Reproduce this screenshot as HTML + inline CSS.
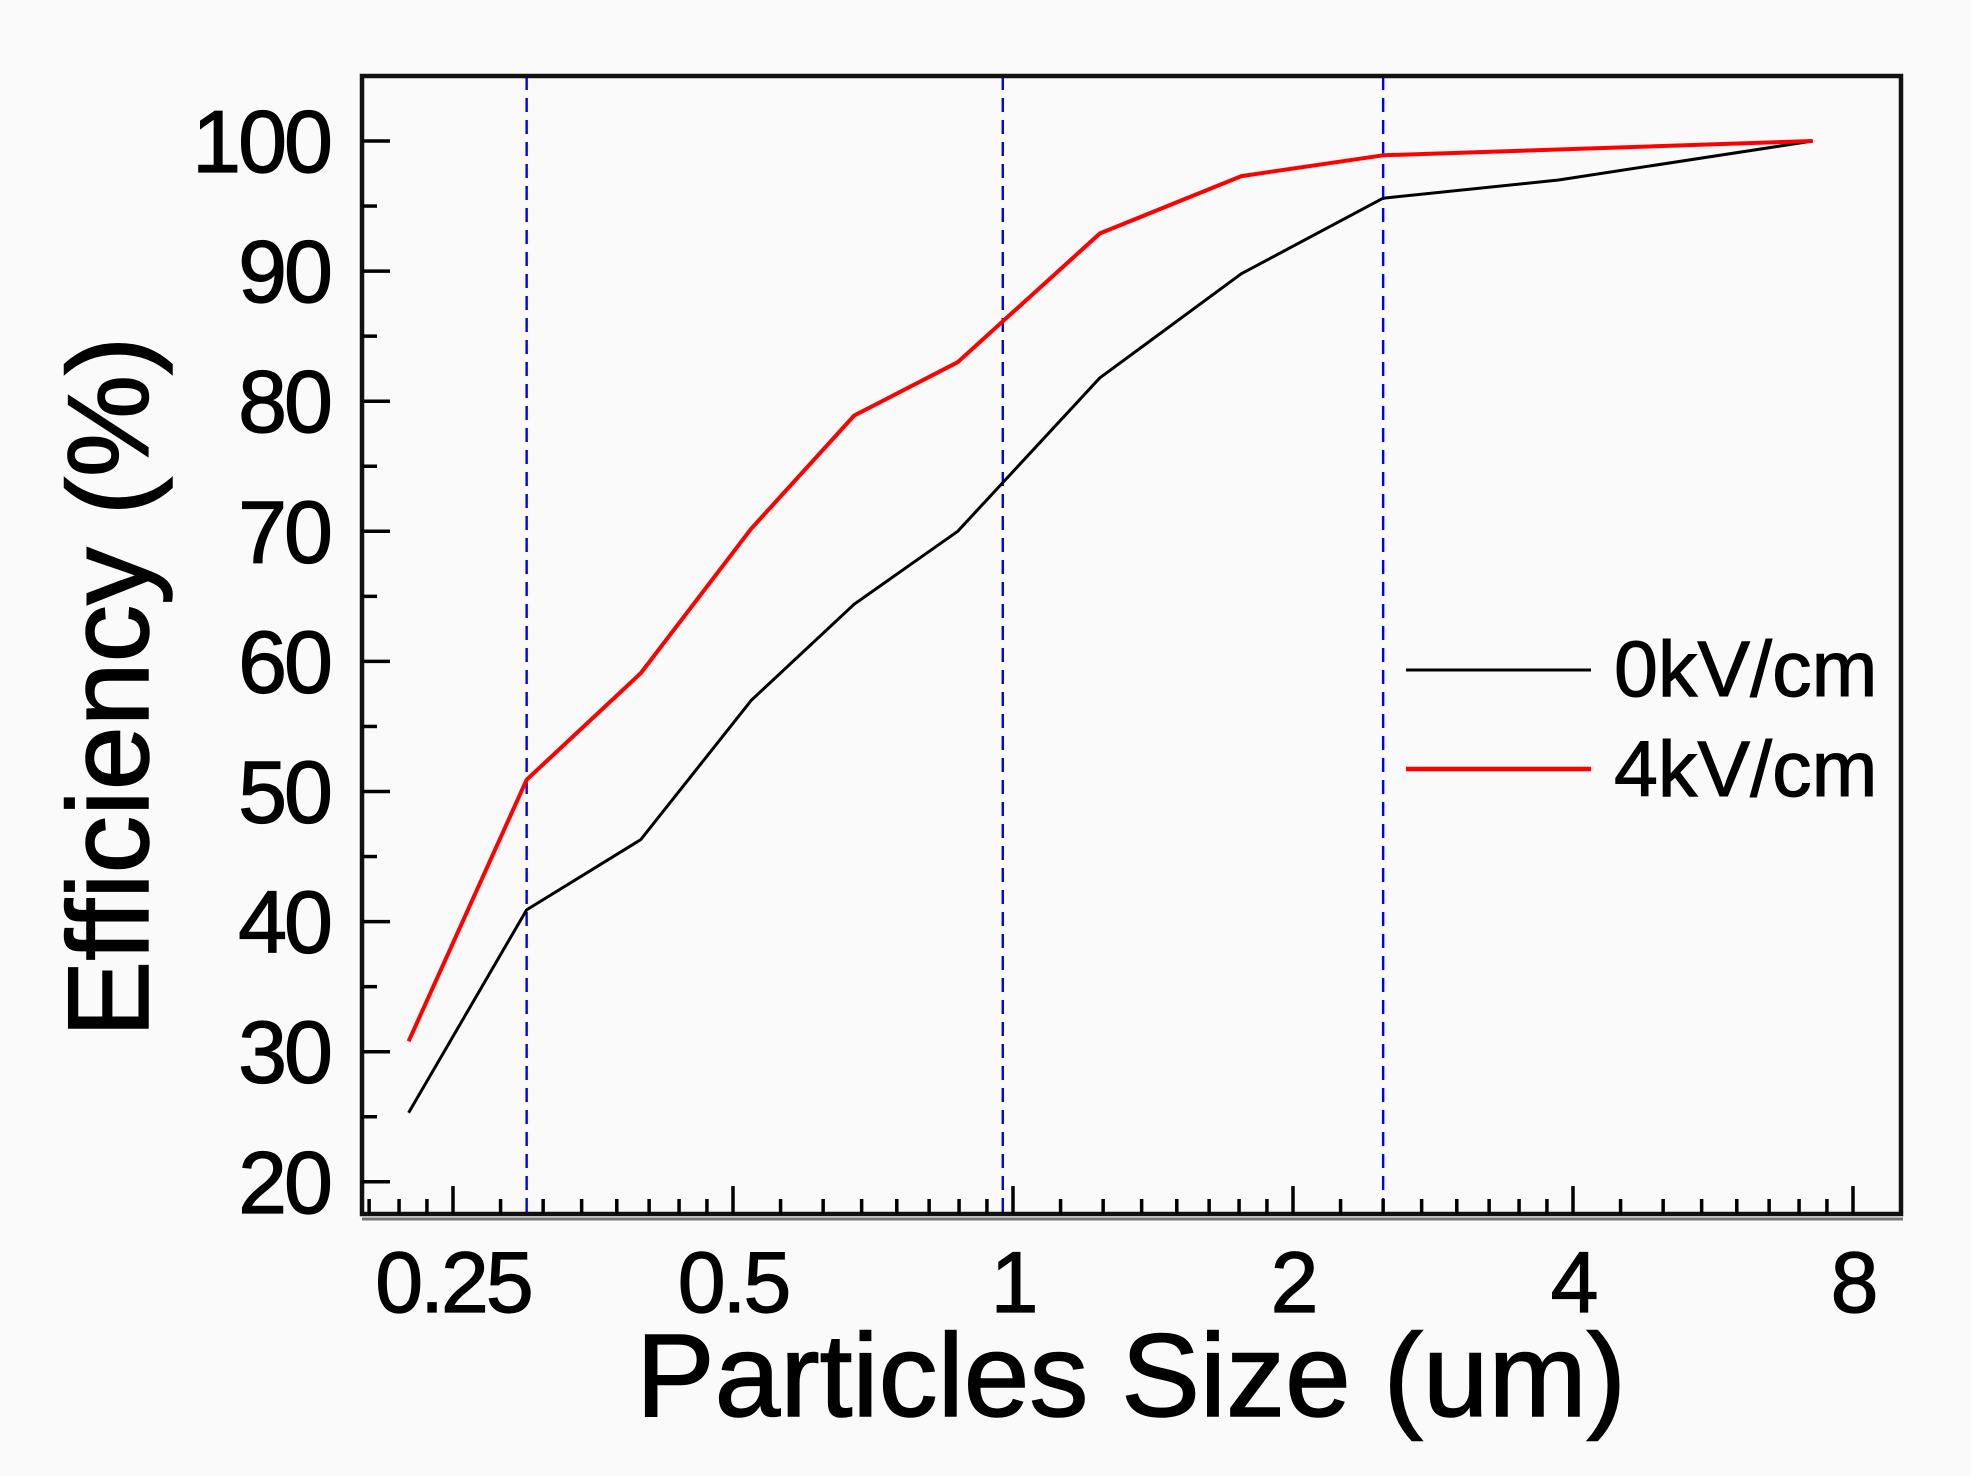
<!DOCTYPE html>
<html><head><meta charset="utf-8">
<style>
html,body{margin:0;padding:0;background:#fafafa;}
svg{display:block;font-family:"Liberation Sans",Arial,sans-serif;}
</style></head>
<body>
<svg id="chart" width="1971" height="1476" viewBox="0 0 1971 1476" xmlns="http://www.w3.org/2000/svg">
<rect x="0" y="0" width="1971" height="1476" fill="#fafafa"/>
<g id="plot"></g>
</svg>
<script>
const xTicks = [0.25, 0.5, 1, 2, 4, 8];
const xTickLabels = ["0.25", "0.5", "1", "2", "4", "8"];
const yTicks = [20, 30, 40, 50, 60, 70, 80, 90, 100];
const sizes = [0.224, 0.30, 0.398, 0.523, 0.675, 0.872, 1.24, 1.76, 2.5, 3.86, 7.24];
const eff0 = [25.3, 40.9, 46.3, 57.0, 64.4, 70.0, 81.8, 89.8, 95.6, 97.0, 100];
const sizes4 = [0.224, 0.30, 0.398, 0.523, 0.675, 0.872, 1.24, 1.76, 2.5, 7.24];
const eff4 = [30.8, 50.9, 59.1, 70.2, 78.9, 83.0, 92.9, 97.3, 98.9, 100];
const refLines = [0.30, 0.975, 2.5];

const NS = "http://www.w3.org/2000/svg";
const L = 362, R = 1901, T = 76, B = 1214;
function xs(v){ return 1013 + Math.log2(v) * 280; }
function ys(v){ return 141 + (100 - v) * 13.01; }
const g = document.getElementById('plot');
function mk(tag, attrs){ const e = document.createElementNS(NS, tag); for (const k in attrs) e.setAttribute(k, attrs[k]); g.appendChild(e); return e; }

refLines.forEach(v => {
  const e = mk('line', {x1: xs(v), x2: xs(v), y1: T, y2: B, stroke: '#0000ee', 'stroke-width': 2.4, 'stroke-dasharray': '14 8'});
  
  
});

function series(xv, yv, color, w, name){
  const pts = xv.map((x, i) => xs(x).toFixed(1) + ',' + ys(yv[i]).toFixed(1)).join(' ');
  const e = mk('polyline', {points: pts, fill: 'none', stroke: color, 'stroke-width': w, 'stroke-linejoin': 'round'});
  
  
}
series(sizes, eff0, '#000', 3, 'series-0kv');
series(sizes4, eff4, '#ff0000', 4, 'series-4kv');

const fr = mk('rect', {x: L, y: T, width: R - L, height: B - T, fill: 'none', stroke: '#111', 'stroke-width': 4.5});


const sh = mk('line', {x1: L, x2: R + 2, y1: B + 5, y2: B + 5, stroke: '#777', 'stroke-width': 3});



yTicks.forEach(v => {
  const y = ys(v);
  const t = mk('line', {x1: L, x2: L + 28, y1: y, y2: y, stroke: '#000', 'stroke-width': 3.5});
  
  
  if (v < 100) {
    const m = mk('line', {x1: L, x2: L + 15, y1: ys(v + 5), y2: ys(v + 5), stroke: '#000', 'stroke-width': 3.5});
    
    
  }
  const lb = mk('text', {x: 330, y: y + 31, 'text-anchor': 'end', 'font-size': 88, fill: '#000', stroke: '#000', 'stroke-width': 1.2, 'letter-spacing': '-3'});
  lb.textContent = v;
  
  
});

xTicks.forEach((v, i) => {
  const x = xs(v);
  const t = mk('line', {x1: x, x2: x, y1: B, y2: B - 28, stroke: '#000', 'stroke-width': 3.5});
  
  
  const lb = mk('text', {x: x, y: 1312, 'text-anchor': 'middle', 'font-size': 86, fill: '#000', stroke: '#000', 'stroke-width': 1.2, 'letter-spacing': '-3'});
  lb.textContent = xTickLabels[i];
  
  
});
[0.125, 0.25, 0.5, 1, 2, 4].forEach(a => {
  for (let k = 1; k < 8; k++) {
    const v = a * (1 + k / 8);
    const x = xs(v);
    if (x < L + 4 || x > R - 4) continue;
    const m = mk('line', {x1: x, x2: x, y1: B, y2: B - 15, stroke: '#000', 'stroke-width': 3.5});
    
    
  }
});

const xt = mk('text', {x: 1131, y: 1416, 'text-anchor': 'middle', 'font-size': 118, fill: '#000', stroke: '#000', 'stroke-width': 1.5});
xt.textContent = 'Particles Size (um)';


const yt = mk('text', {x: 0, y: 0, 'text-anchor': 'middle', 'font-size': 115, fill: '#000', stroke: '#000', 'stroke-width': 1.5, transform: 'translate(148,687) rotate(-90)'});
yt.textContent = 'Efficiency (%)';



const l1 = mk('line', {x1: 1406, x2: 1591, y1: 670, y2: 670, stroke: '#000', 'stroke-width': 3});


const t1 = mk('text', {x: 1614, y: 696, 'font-size': 79, fill: '#000', stroke: '#000', 'stroke-width': 1});
t1.textContent = '0kV/cm';


const l2 = mk('line', {x1: 1406, x2: 1591, y1: 769, y2: 769, stroke: '#ff0000', 'stroke-width': 4.5});


const t2 = mk('text', {x: 1614, y: 796, 'font-size': 79, fill: '#000', stroke: '#000', 'stroke-width': 1});
t2.textContent = '4kV/cm';


</script>
</body></html>
